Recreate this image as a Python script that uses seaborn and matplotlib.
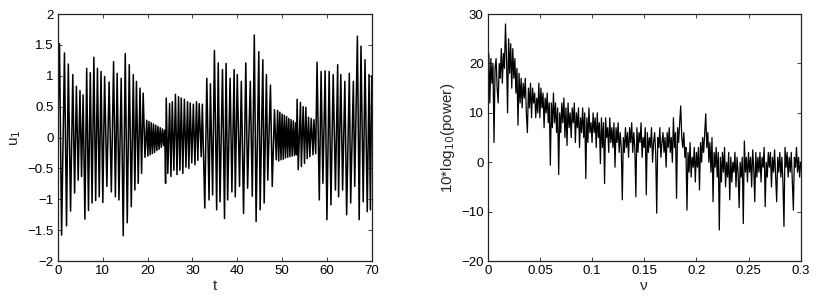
import numpy as np
import matplotlib
matplotlib.use('Agg')
import matplotlib.pyplot as plt
import seaborn as sns

# left panel: extrema of u1(t) (time, value)
t_ext = [0.0, 0.33, 0.8, 1.44, 1.9, 2.3, 2.8, 3.3, 3.7, 4.1, 4.5, 4.9, 5.25, 5.6, 6.0,
         6.4, 6.8, 7.2, 7.6, 8.0, 8.4, 8.8, 9.2, 9.6, 10.0, 10.4, 10.9, 11.4, 11.9,
         12.4, 12.8, 13.2, 13.6, 14.1, 14.55, 15.0, 15.45, 15.9, 16.35, 16.8, 17.15,
         17.5, 17.9, 18.3, 18.65, 19.0, 19.4,
         19.8, 20.05, 20.3, 20.55, 20.8, 21.05, 21.3, 21.55, 21.8, 22.05, 22.3, 22.55,
         22.8, 23.05, 23.3, 23.55, 23.8, 24.0,
         24.15, 24.5, 24.9, 25.2, 25.5, 25.85, 26.2, 26.55, 26.9, 27.2, 27.5, 27.85,
         28.2, 28.55, 28.9, 29.2, 29.5, 29.85, 30.2, 30.55, 30.9, 31.2, 31.5, 31.95,
         32.2, 32.75,
         33.2, 33.7, 34.0, 34.5, 34.9, 35.4, 35.75, 36.15, 36.7, 37.15, 37.5, 37.85,
         38.4, 38.8, 39.3, 39.55, 40.0, 40.5, 40.9, 41.4, 41.9, 42.3, 42.9, 43.35,
         43.8, 44.2, 44.8, 45.1, 45.7, 46.0, 46.5, 46.8, 47.4, 47.8, 48.3, 48.7,
         49.0, 49.25, 49.5, 49.75, 50.0, 50.25, 50.5, 50.75, 51.0, 51.25, 51.5, 51.75,
         52.0, 52.25, 52.5, 52.75, 53.0, 53.2,
         53.35, 53.6, 54.1, 54.3, 54.7, 55.0, 55.3, 55.6, 55.9, 56.2, 56.5, 56.9,
         57.1, 57.5, 57.8, 58.3, 58.7, 59.1, 59.6, 60.0, 60.5, 60.9, 61.4, 61.9,
         62.4, 62.6, 63.1, 63.5, 64.0, 64.4, 65.0, 65.3, 65.9, 66.2, 66.8, 67.2,
         67.6, 68.1, 68.5, 69.0, 69.4, 69.7, 70.0]
u_ext = [0.3, 1.52, -1.58, 1.37, -1.43, 1.19, -1.19, 1.02, -0.90, 0.83, -0.69, 0.76, -0.63,
         0.69, -1.32, 1.12, -1.18, 1.05, -1.06, 1.30, -1.02, 1.12, -0.96, 1.07, -1.05,
         0.99, -0.79, 0.90, -0.88, 1.23, -0.96, 1.04, -1.01, 0.96, -1.59, 1.36, -1.38,
         1.18, -1.12, 1.02, -0.85, 0.91, -0.74, 0.80, -0.58, 0.72, -0.32,
         0.28, -0.30, 0.26, -0.28, 0.24, -0.26, 0.22, -0.24, 0.20, -0.21, 0.18, -0.19,
         0.16, -0.16, 0.14, -0.13, 0.12, -0.74,
         0.64, -0.58, 0.55, -0.63, 0.58, -0.53, 0.70, -0.60, 0.66, -0.53, 0.64, -0.58,
         0.62, -0.48, 0.58, -0.50, 0.56, -0.41, 0.54, -0.44, 0.58, -0.37, 0.55, -0.31,
         0.54, -1.14,
         0.96, -1.01, 0.87, -0.93, 1.41, -1.17, 1.21, -1.04, 1.10, -1.31, 1.20, -1.01,
         0.96, -0.88, 1.10, -0.96, 1.02, -0.79, 0.91, -1.23, 1.21, -0.82, 0.91, -0.95,
         1.66, -1.36, 1.39, -1.17, 1.26, -1.06, 1.02, -0.69, 0.85, -0.79, 0.45, -0.36,
         0.44, -0.38, 0.41, -0.36, 0.38, -0.35, 0.36, -0.33, 0.34, -0.32, 0.31, -0.31,
         0.29, -0.30, 0.27, -0.29, 0.24, -0.28,
         0.62, -0.52, 0.57, -0.47, 0.50, -0.42, 0.49, -0.34, 0.33, -0.31, 0.31, -0.28,
         0.29, -0.26, 1.22, -1.01, 1.07, -0.74, 1.08, -1.33, 1.07, -1.09, 1.02, -0.85,
         1.18, -0.96, 1.02, -0.85, 0.91, -1.25, 1.04, -1.06, 0.91, -0.79, 1.64, -1.33,
         1.48, -1.04, 1.26, -1.20, 1.02, -1.17, 1.00]

# right panel: power spectrum in dB, one value per 0.001 in nu (0 .. 0.3)
power_db = [
    15, 22, 12, 21, 16, 20, 4, 19, 21, 15,
    12, 20, 17, 23, 16, 22, 19, 28, 21, 10,
    25, 18, 24, 15, 23, 17, 21, 14, 19, 7.5,
    18, 12, 17, 11, 16, 13, 17, 10, 6, 15,
    11, 16, 9, 15, 12, 14, 9, 13, 10, 16,
    9, 15, 11, 14, 7, 13, 10, 14, 8, 12,
    -0.6, 12, 7, 14, 8, 12, 6, 11, -2.5, 10,
    6, 12, 8, 13, 5, 11, 3.4, 12, 7, 10,
    5, 11, 8, 12, 4, 10, 7, 11, 3, 9,
    6, 11, 5, 10, -3.3, 9, 4, 11, 6, 8,
    4, 10, 6, 9, 3, 10, 5, 8, -0.3, 9,
    3, 8, -4.3, 9, 5, 7, 2, 9, 4, 7,
    3, 8, -1, 7, 4, 8, 2, 6, 3, -7.6,
    5, 2, 7, 3, 6, 1, 7, 4, 8, 2,
    6, 3, -7, 7, 2, 6, 4, 8, 1, 5,
    3, 7, -6.6, 6, 2, 5, 3, 7, 0, 4,
    6, 2, -10.3, 5, 3, 7, 1, 4, 6, 2,
    5, -1, 6, 3, 7, 2, 5, 0, 9, 3,
    6, -7.3, 7, 4, 8, 11.4, 5, 3, 6, 1,
    3, -9.7, 2, -2, 4, -3, 1, -1, 3, -4,
    2, -1, 3, -5.6, 4, 0, 5, 2, 6, 9.8,
    3, 6, 0, 4, -2, 5, -8, 2, -1, 3,
    -3, 2, -13.7, 1, -4, 2, -2, 3, -5, 0,
    -3, 2, -7.6, 1, -4, 0, -2, 2, -5, 1,
    -2, -9.2, 0, -3, 1, -12.4, 4.3, -2, 1, -4,
    2, -2, 1, -5, 2.5, -1, -8, 2, -3, 1,
    -2, 2, -4, 1, -1, 3, -9, 0, -3, 2,
    -1, 2, -5, 1, -2, 2.5, -3, -8, 1, -2,
    2, -3, 1, -4, -13, 3, -1, 2, -3, 1,
    -2, 2, -4, -9.7, 1, -1, 3, -2, 1, -3,
    0]
nu = np.linspace(0, 0.3, len(power_db))

sns.set_style('ticks')
plt.rcParams['font.family'] = ['Liberation Sans', 'DejaVu Sans']
plt.rcParams['font.size'] = 9.5
plt.rcParams['xtick.direction'] = 'in'
plt.rcParams['ytick.direction'] = 'in'
plt.rcParams['xtick.top'] = True
plt.rcParams['ytick.right'] = True

fig = plt.figure(figsize=(8.17, 3.05), dpi=100)
ax1 = fig.add_axes([0.071, 0.144, 0.384, 0.81])
ax2 = fig.add_axes([0.597, 0.144, 0.383, 0.81])

sns.lineplot(x=t_ext, y=u_ext, sort=False, estimator=None, color='k', lw=1.1, ax=ax1)
ax1.set_xlim(0, 70)
ax1.set_ylim(-2, 2)
ax1.set_xticks(np.arange(0, 71, 10))
ax1.set_yticks(np.arange(-2, 2.01, 0.5))
ax1.set_yticklabels(['\u22122', '\u22121.5', '\u22121', '\u22120.5', '0', '0.5', '1', '1.5', '2'])
ax1.set_xlabel('t', labelpad=1, fontsize=11)
ax1.set_ylabel('u$_1$', labelpad=3, fontsize=11)

sns.lineplot(x=nu, y=power_db, sort=False, estimator=None, color='k', lw=0.9, ax=ax2)
ax2.set_xlim(0, 0.3)
ax2.set_ylim(-20, 30)
ax2.set_xticks([0, 0.05, 0.1, 0.15, 0.2, 0.25, 0.3])
ax2.set_xticklabels(['0', '0.05', '0.1', '0.15', '0.2', '0.25', '0.3'])
ax2.set_yticks(np.arange(-20, 31, 10))
ax2.set_yticklabels(['\u221220', '\u221210', '0', '10', '20', '30'])
ax2.set_xlabel('\u03bd', labelpad=1, fontsize=11)
ax2.set_ylabel('10*log$_{10}$(power)', labelpad=3, fontsize=11)

for ax in (ax1, ax2):
    for sp in ax.spines.values():
        sp.set_visible(True)
        sp.set_linewidth(0.9)
        sp.set_color('#222222')
    ax.tick_params(length=3, width=0.6, pad=3, colors='#222222', labelcolor='k')

plt.savefig('out.png', dpi=100)
